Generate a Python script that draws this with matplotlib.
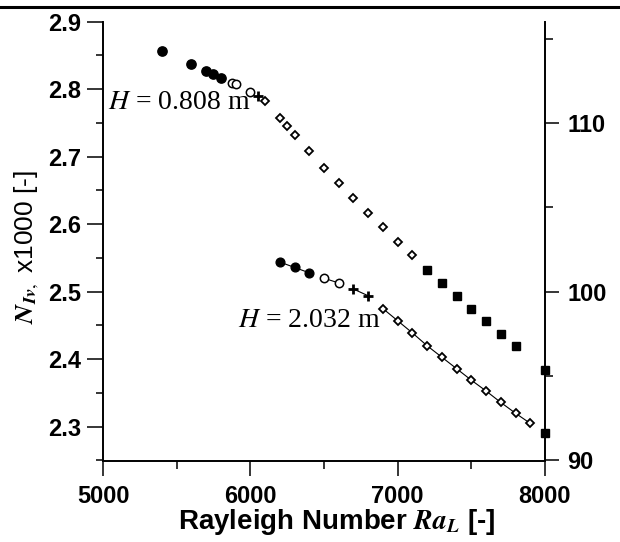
import matplotlib
matplotlib.use("Agg")
import matplotlib.pyplot as plt
from matplotlib.lines import Line2D
import numpy as np

plt.rcParams['font.family'] = ['Liberation Sans', 'DejaVu Sans']
plt.rcParams['mathtext.fontset'] = 'stix'

# ---- data ----
# H = 0.808 m series (no connecting lines)
up_fc_x = [5400, 5600, 5700, 5750, 5800]
up_fc_y = [2.857, 2.837, 2.827, 2.822, 2.816]
up_oc_x = [5875, 5900, 6000]
up_oc_y = [2.809, 2.808, 2.796]
up_pl_x = [6050]
up_pl_y = [2.790]
up_dm_x = [6100, 6200, 6250, 6300, 6400, 6500, 6600, 6700, 6800, 6900, 7000, 7100]
up_dm_y = [2.782, 2.757, 2.746, 2.732, 2.708, 2.684, 2.661, 2.639, 2.617, 2.596, 2.574, 2.554]
up_sq_x = [7200, 7300, 7400, 7500, 7600, 7700, 7800, 8000, 8000]
up_sq_y = [2.532, 2.513, 2.493, 2.474, 2.456, 2.437, 2.419, 2.384, 2.291]

# H = 2.032 m series (connected)
lo_fc_x = [6200, 6300, 6400]
lo_fc_y = [2.544, 2.536, 2.528]
lo_oc_x = [6500, 6600]
lo_oc_y = [2.520, 2.513]
lo_pl_x = [6700, 6800]
lo_pl_y = [2.504, 2.494]
lo_dm_x = [6900, 7000, 7100, 7200, 7300, 7400, 7500, 7600, 7700, 7800, 7900]
lo_dm_y = [2.475, 2.457, 2.439, 2.420, 2.403, 2.386, 2.369, 2.353, 2.336, 2.320, 2.305]

left_ticks = [2.3, 2.4, 2.5, 2.6, 2.7, 2.8, 2.9]
left_minor = [2.25, 2.35, 2.45, 2.55, 2.65, 2.75, 2.85]
right_ticks = [90, 100, 110]
right_minor = [95, 105, 115]
x_ticks = [5000, 6000, 7000, 8000]
x_minor = [5500, 6500, 7500]

fig = plt.figure(figsize=(6.2, 5.42), dpi=100)
ax = fig.add_axes([103/620, 1-460.5/542, 442/620, (460.5-21.7)/542])
ax2 = ax.twinx()

ax.set_xlim(5000, 8000)
ax.set_ylim(2.25, 2.9)
ax2.set_ylim(90, 116)

lw_sp = 1.4
for a in (ax, ax2):
    a.spines['top'].set_visible(False)
    a.set_facecolor('none')
ax.spines['right'].set_visible(False)
ax2.spines['left'].set_visible(False)
ax2.spines['bottom'].set_visible(False)
ax.spines['left'].set_linewidth(lw_sp)
ax.spines['bottom'].set_linewidth(lw_sp)
ax2.spines['right'].set_linewidth(lw_sp)

ax.set_xticks(x_ticks)
ax.set_xticks(x_minor, minor=True)
ax.set_yticks(left_ticks)
ax.set_yticks(left_minor, minor=True)
ax.set_yticklabels([f"{v:.1f}" for v in left_ticks])
ax.set_xticklabels([str(v) for v in x_ticks])
ax2.set_yticks(right_ticks)
ax2.set_yticks(right_minor, minor=True)
ax2.set_yticklabels([str(v) for v in right_ticks])

tfs = 17
ax.tick_params(axis='y', which='major', direction='out', length=11.5, width=1.1, pad=4,
               labelsize=tfs)
ax.tick_params(axis='y', which='minor', direction='out', length=5, width=1.1)
ax.tick_params(axis='x', which='major', direction='out', length=10.5, width=1.1, pad=7,
               labelsize=tfs)
ax.tick_params(axis='x', which='minor', direction='out', length=5.5, width=1.1)
ax2.tick_params(axis='y', which='major', direction='out', length=10, width=1.1, pad=6,
                labelsize=tfs)
ax2.tick_params(axis='y', which='minor', direction='out', length=5.5, width=1.1)
for lab in ax.get_xticklabels() + ax.get_yticklabels() + ax2.get_yticklabels():
    lab.set_fontweight('bold')

# upper series
ax.plot(up_fc_x, up_fc_y, 'o', color='black', ms=6.7, ls='none', clip_on=False, zorder=3)
ax.plot(up_oc_x, up_oc_y, 'o', mfc='white', mec='black', mew=1.1, ms=6.0, ls='none',
        clip_on=False, zorder=3)
ax.plot(up_pl_x, up_pl_y, '+', color='black', mew=2.0, ms=7, ls='none', clip_on=False, zorder=3)
ax.plot(up_dm_x, up_dm_y, 'D', mfc='white', mec='black', mew=1.3, ms=4.1, ls='none',
        clip_on=False, zorder=3)
ax.plot(up_sq_x, up_sq_y, 's', color='black', ms=5.5, ls='none', clip_on=False, zorder=3)

# lower series
ax.plot(lo_fc_x, lo_fc_y, 'o-', color='black', lw=0.8, ms=6.3, clip_on=False, zorder=3)
ax.plot(lo_oc_x, lo_oc_y, 'o-', color='black', mfc='white', mec='black', mew=1.1, lw=0.8,
        ms=6.0, clip_on=False, zorder=3)
ax.plot(lo_pl_x, lo_pl_y, '+-', color='black', mew=2.0, lw=0.8, ms=7, clip_on=False, zorder=3)
ax.plot(lo_dm_x, lo_dm_y, 'D-', color='black', mfc='white', mec='black', mew=1.3, lw=0.8,
        ms=4.1, clip_on=False, zorder=3)

# annotations
ax.text(5034, 2.780, "$H$ = 0.808 m", family='Liberation Serif', fontsize=20,
        ha='left', va='center')
ax.text(6885, 2.457, "$H$ = 2.032 m", family='Liberation Serif', fontsize=20,
        ha='right', va='center')

ax.set_xlabel(r"Rayleigh Number $\mathbfit{Ra}_{\mathbfit{L}}$ [-]", fontsize=20,
              fontweight='bold', labelpad=1)
ax.xaxis.set_label_coords(0.53, -0.105)
fig.text(27/620, 1-247/542, r"$\mathbfit{N}_{\mathbfit{Iv},}$ x1000 [-]", rotation=90,
         fontsize=19, ha='center', va='center')

fig.add_artist(Line2D([0, 1], [1-6.5/542, 1-6.5/542], transform=fig.transFigure,
                      color='black', lw=2.2))

fig.savefig("out.png", dpi=100)
